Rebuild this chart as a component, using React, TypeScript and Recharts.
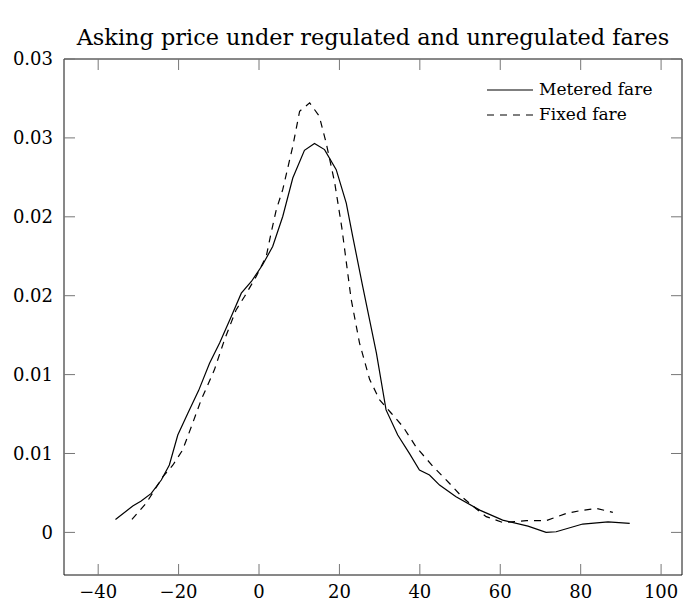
import { Legend, Line, LineChart, XAxis, YAxis } from "recharts";

type Pt = { x: number; y: number };

const meteredFare: Pt[] = [
  { x: -35.7, y: 0.00082 },
  { x: -31.4, y: 0.00167 },
  { x: -29.3, y: 0.00199 },
  { x: -26.8, y: 0.00247 },
  { x: -24.3, y: 0.00332 },
  { x: -22.3, y: 0.00427 },
  { x: -20.2, y: 0.00617 },
  { x: -17.7, y: 0.00755 },
  { x: -15.0, y: 0.009 },
  { x: -12.3, y: 0.01072 },
  { x: -9.8, y: 0.012 },
  { x: -6.9, y: 0.01368 },
  { x: -4.4, y: 0.01516 },
  { x: -1.9, y: 0.0159 },
  { x: 0.9, y: 0.01696 },
  { x: 3.4, y: 0.01812 },
  { x: 5.9, y: 0.02002 },
  { x: 8.4, y: 0.02246 },
  { x: 11.3, y: 0.02421 },
  { x: 13.8, y: 0.02464 },
  { x: 16.3, y: 0.02426 },
  { x: 19.2, y: 0.02299 },
  { x: 21.7, y: 0.02087 },
  { x: 23.3, y: 0.01876 },
  { x: 25.8, y: 0.01558 },
  { x: 29.2, y: 0.01136 },
  { x: 31.6, y: 0.00776 },
  { x: 34.5, y: 0.00617 },
  { x: 37.4, y: 0.00501 },
  { x: 39.9, y: 0.00395 },
  { x: 42.4, y: 0.00364 },
  { x: 44.9, y: 0.003 },
  { x: 49.0, y: 0.00226 },
  { x: 54.9, y: 0.00141 },
  { x: 60.6, y: 0.00078 },
  { x: 66.9, y: 0.0004 },
  { x: 71.4, y: 0.0 },
  { x: 73.9, y: 0.00004 },
  { x: 80.5, y: 0.00053 },
  { x: 86.8, y: 0.00067 },
  { x: 92.2, y: 0.00057 }
];

const fixedFare: Pt[] = [
  { x: -31.6, y: 0.00082 },
  { x: -28.1, y: 0.00184 },
  { x: -26.0, y: 0.00268 },
  { x: -23.9, y: 0.00353 },
  { x: -21.4, y: 0.00427 },
  { x: -19.0, y: 0.00522 },
  { x: -16.5, y: 0.00692 },
  { x: -14.4, y: 0.00839 },
  { x: -11.1, y: 0.0103 },
  { x: -8.6, y: 0.0122 },
  { x: -5.7, y: 0.0141 },
  { x: -3.6, y: 0.01495 },
  { x: -0.7, y: 0.01622 },
  { x: 1.8, y: 0.01749 },
  { x: 3.0, y: 0.01897 },
  { x: 4.3, y: 0.02045 },
  { x: 5.9, y: 0.02172 },
  { x: 8.4, y: 0.02447 },
  { x: 10.1, y: 0.02669 },
  { x: 12.6, y: 0.02722 },
  { x: 15.0, y: 0.02637 },
  { x: 16.7, y: 0.02468 },
  { x: 18.8, y: 0.0222 },
  { x: 20.6, y: 0.0193 },
  { x: 22.9, y: 0.0148 },
  { x: 25.0, y: 0.012 },
  { x: 27.5, y: 0.0097 },
  { x: 30.0, y: 0.0084 },
  { x: 32.9, y: 0.00755 },
  { x: 35.8, y: 0.0067 },
  { x: 39.1, y: 0.0054 },
  { x: 43.2, y: 0.0042 },
  { x: 47.4, y: 0.0031 },
  { x: 50.7, y: 0.0022 },
  { x: 54.0, y: 0.0015 },
  { x: 56.5, y: 0.001 },
  { x: 60.6, y: 0.00063 },
  { x: 66.5, y: 0.00074 },
  { x: 71.4, y: 0.00074 },
  { x: 76.4, y: 0.0012 },
  { x: 79.7, y: 0.00137 },
  { x: 83.9, y: 0.00152 },
  { x: 88.0, y: 0.00127 }
];

const xTicks = [-40, -20, 0, 20, 40, 60, 80, 100];
const yTicks = [0, 0.005, 0.01, 0.015, 0.02, 0.025, 0.03];

const title = "Asking price under regulated and unregulated fares";
const seriesNames = ["Metered fare", "Fixed fare"];

const FONT = "'DejaVu Serif', serif";
const xDomain = [-48.5, 105.2];
const yDomain = [-0.0027, 0.03];

// inward tick marks, like pgfplots' default
const TICK_LEN = 11;
const TICK_COLOR = "#777";
const BOTTOM_GAP = 10;
const LEFT_GAP = 11;

const fmtX = (v: number) => (v < 0 ? `\u2212${-v}` : `${v}`);
const fmtY = (v: number) => `${Math.round(v * 100) / 100}`;

const labelStyle = { fill: "#000", fontSize: 18, fontFamily: FONT };

function BottomTick({ x, y, payload }: any) {
  const axisY = y - BOTTOM_GAP;
  return (
    <g>
      <line x1={x} x2={x} y1={axisY} y2={axisY - TICK_LEN} stroke={TICK_COLOR} />
      <text x={x} y={y} dy="0.71em" textAnchor="middle" {...labelStyle}>
        {fmtX(payload.value)}
      </text>
    </g>
  );
}

function LeftTick({ x, y, payload }: any) {
  const axisX = x + LEFT_GAP;
  return (
    <g>
      <line x1={axisX} x2={axisX + TICK_LEN} y1={y} y2={y} stroke={TICK_COLOR} />
      <text x={x} y={y} dy="0.355em" textAnchor="end" {...labelStyle}>
        {fmtY(payload.value)}
      </text>
    </g>
  );
}

function TopTick({ x, y }: any) {
  return <line x1={x} x2={x} y1={y} y2={y + TICK_LEN} stroke={TICK_COLOR} />;
}

function RightTick({ x, y }: any) {
  return <line x1={x} x2={x - TICK_LEN} y1={y} y2={y} stroke={TICK_COLOR} />;
}

function FareLegend() {
  return (
    <div style={{ fontFamily: FONT, fontSize: 17, color: "#000", lineHeight: "25px" }}>
      {seriesNames.map((name, i) => (
        <div key={name} style={{ display: "flex", alignItems: "center" }}>
          <svg width={46} height={10} style={{ marginRight: 6 }}>
            <line x1={0} y1={5} x2={46} y2={5} stroke="#000" strokeWidth={1.2} strokeDasharray={i === 1 ? "7 6" : undefined} />
          </svg>
          <span>{name}</span>
        </div>
      ))}
    </div>
  );
}

export default function App() {
  const frame = { stroke: "#111" };
  return (
    <div style={{ position: "absolute", left: 0, top: 0, width: 683, height: 603, background: "#fff" }}>
      <div
        style={{
          position: "absolute",
          left: 64,
          width: 618,
          top: 24,
          textAlign: "center",
          fontFamily: FONT,
          fontSize: 22.4,
          color: "#000",
          whiteSpace: "nowrap"
        }}
      >
        {title}
      </div>
      <LineChart width={683} height={603} margin={{ top: 58, right: 0, bottom: 27, left: 63 }}>
        <XAxis
          xAxisId="bottom"
          type="number"
          dataKey="x"
          domain={xDomain}
          ticks={xTicks}
          allowDataOverflow
          height={1}
          tickSize={0}
          tickMargin={BOTTOM_GAP}
          tickLine={false}
          tick={(p: any) => <BottomTick {...p} />}
          axisLine={frame}
        />
        <XAxis
          xAxisId="top"
          orientation="top"
          type="number"
          dataKey="x"
          domain={xDomain}
          ticks={xTicks}
          allowDataOverflow
          height={1}
          tickSize={0}
          tickMargin={0}
          tickLine={false}
          tick={(p: any) => <TopTick {...p} />}
          axisLine={frame}
        />
        <YAxis
          yAxisId="left"
          type="number"
          domain={yDomain}
          ticks={yTicks}
          allowDataOverflow
          width={1}
          tickSize={0}
          tickMargin={LEFT_GAP}
          tickLine={false}
          tick={(p: any) => <LeftTick {...p} />}
          axisLine={frame}
        />
        <YAxis
          yAxisId="right"
          orientation="right"
          type="number"
          domain={yDomain}
          ticks={yTicks}
          allowDataOverflow
          width={1}
          tickSize={0}
          tickMargin={0}
          tickLine={false}
          tick={(p: any) => <RightTick {...p} />}
          axisLine={frame}
        />
        <Legend
          layout="vertical"
          align="center"
          verticalAlign="middle"
          content={() => <FareLegend />}
          wrapperStyle={{ left: 487, top: 77, width: 190, height: 55 }}
        />
        <Line
          xAxisId="bottom"
          yAxisId="left"
          data={meteredFare}
          dataKey="y"
          name={seriesNames[0]}
          type="linear"
          stroke="#000"
          strokeWidth={1.2}
          dot={false}
          isAnimationActive={false}
        />
        <Line
          xAxisId="bottom"
          yAxisId="left"
          data={fixedFare}
          dataKey="y"
          name={seriesNames[1]}
          type="linear"
          stroke="#000"
          strokeWidth={1.2}
          strokeDasharray="7 6"
          dot={false}
          isAnimationActive={false}
        />
      </LineChart>
    </div>
  );
}
